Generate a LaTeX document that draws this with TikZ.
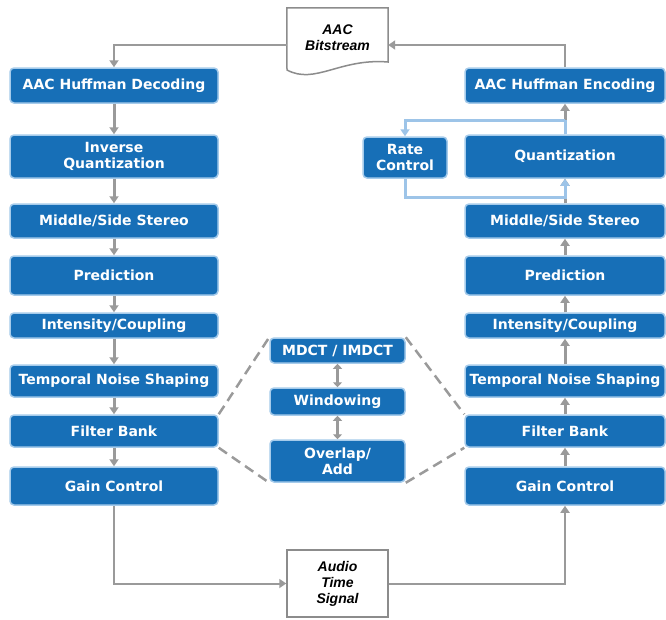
\documentclass[tikz,border=0pt]{standalone}
\usepackage{fontspec}
\setmainfont{DejaVu Sans}
\newfontfamily\lsans{Liberation Sans}
\usetikzlibrary{arrows.meta,calc}
\definecolor{boxblue}{HTML}{176FB7}
\definecolor{boxrim}{HTML}{A5CBEB}
\definecolor{flow}{HTML}{9A9A9A}
\definecolor{loopblue}{HTML}{9DC4E8}
\definecolor{docline}{HTML}{8C8C8C}
\begin{document}
\begin{tikzpicture}[x=1pt,y=-1pt,
  blk/.style={draw=boxrim, line width=1.5pt, fill=boxblue, rounded corners=4pt,
    text=white, font=\fontsize{14}{16}\selectfont\bfseries, align=center, inner sep=0pt},
  lcol/.style={blk, minimum width=208pt},
  rcol/.style={blk, minimum width=200pt},
  ccol/.style={blk, minimum width=135pt},
  tip/.style={-{Triangle[width=9pt,length=7pt]}},
  flowarrow/.style={draw=flow, line width=3pt, tip},
  flowline/.style={draw=flow, line width=2pt},
  dbl/.style={draw=flow, line width=3pt, {Triangle[width=9pt,length=5pt]}-{Triangle[width=9pt,length=5pt]}},
  loopline/.style={draw=loopblue, line width=3pt},
  hexdash/.style={draw=flow, line width=2.5pt, dash pattern=on 10pt off 6pt},
  lbl/.style={font=\lsans\fontsize{14}{16}\selectfont\bfseries\itshape, align=center, inner sep=0pt}
]
\useasboundingbox (0,0) rectangle (666,619);
\fill[white] (0,0) rectangle (666,619);

% left column (decoder)
\node[lcol, minimum height=35pt] (hd) at (114,85.5) {AAC Huffman Decoding};
\node[lcol, minimum height=43pt] (iq) at (114,156.5) {Inverse\\Quantization};
\node[lcol, minimum height=34pt] (ms) at (114,221) {Middle/Side Stereo};
\node[lcol, minimum height=39pt] (pr) at (114,275.5) {Prediction};
\node[lcol, minimum height=25pt] (ic) at (114,325.5) {Intensity/Coupling};
\node[lcol, minimum height=32pt] (tns) at (114,381) {Temporal Noise Shaping};
\node[lcol, minimum height=32pt] (fb) at (114,431) {Filter Bank};
\node[lcol, minimum height=38pt] (gc) at (114,486) {Gain Control};

% right column (encoder)
\node[rcol, minimum height=35pt] (he) at (565,85.5) {AAC Huffman Encoding};
\node[rcol, minimum height=43pt] (q) at (565,156.5) {Quantization};
\node[rcol, minimum height=34pt] (ms2) at (565,221) {Middle/Side Stereo};
\node[rcol, minimum height=39pt] (pr2) at (565,275.5) {Prediction};
\node[rcol, minimum height=25pt] (ic2) at (565,325.5) {Intensity/Coupling};
\node[rcol, minimum height=32pt] (tns2) at (565,381) {Temporal Noise Shaping};
\node[rcol, minimum height=32pt] (fb2) at (565,431) {Filter Bank};
\node[rcol, minimum height=38pt] (gc2) at (565,486) {Gain Control};

\node[blk, minimum width=84pt, minimum height=41pt] (rc) at (405,157.5) {Rate\\Control};

% centre
\node[ccol, minimum height=25pt] (mdct) at (337.5,350.5) {MDCT / IMDCT};
\node[ccol, minimum height=27pt] (win) at (337.5,401.5) {Windowing};
\node[ccol, minimum height=42pt] (ov) at (337.5,461) {Overlap/\\Add};

% bitstream document
\node[minimum width=101pt, minimum height=64pt, inner sep=0pt] (bs) at (337.5,40) {};
\draw[docline, line width=1.5pt, fill=white]
  (bs.north west) -- (bs.north east) -- (388,62)
  .. controls (340,58) and (315,85) .. (287,70) -- cycle;
\node[lbl] (bst) at (337.5,38) {AAC\\Bitstream};

% audio time signal
\node[draw=docline, line width=1.5pt, fill=white, minimum width=101pt, minimum height=67pt, inner sep=0pt] (at) at (337.5,583.5) {};
\node[lbl] (att) at (337.5,584) {Audio\\Time\\Signal};

% decoder chain
\draw[flowarrow] (hd) -- (iq);
\draw[flowarrow] (iq) -- (ms);
\draw[flowarrow] (ms) -- (pr);
\draw[flowarrow] (pr) -- (ic);
\draw[flowarrow] (ic) -- (tns);
\draw[flowarrow] (tns) -- (fb);
\draw[flowarrow] (fb) -- (gc);

% encoder chain
\draw[flowarrow] (gc2) -- (fb2);
\draw[flowarrow] (fb2) -- (tns2);
\draw[flowarrow] (tns2) -- (ic2);
\draw[flowarrow] (ic2) -- (pr2);
\draw[flowarrow] (pr2) -- (ms2);
\draw[flowarrow] (ms2) -- (q);
\draw[flowarrow] (q) -- (he);

% rate control loop
\coordinate (lt) at (565,120);
\coordinate (lb) at (565,197);
\draw[loopline] (q.north) -- (lt);
\draw[loopline, tip] (lt) -| (rc.north);
\draw[loopline, tip] (rc.south) |- (lb) -- (q.south);

% centre double arrows
\draw[dbl] (mdct) -- (win);
\draw[dbl] (win) -- (ov);

% dashed hexagon
\draw[hexdash] (fb.north east) -- (mdct.north west);
\draw[hexdash] (fb.south east) -- (ov.south west);
\draw[hexdash] (mdct.north east) -- (fb2.north west);
\draw[hexdash] (ov.south east) -- (fb2.south west);

% bitstream connectors
\draw[flowline, tip] ([yshift=-5pt]bs.west) -| (hd.north);
\draw[flowline, tip] (he.north) |- ([yshift=-5pt]bs.east);

% audio connectors
\draw[flowline, tip] (gc.south) |- (at.west);
\draw[flowline, tip] (at.east) -| (gc2.south);
\end{tikzpicture}
\end{document}
